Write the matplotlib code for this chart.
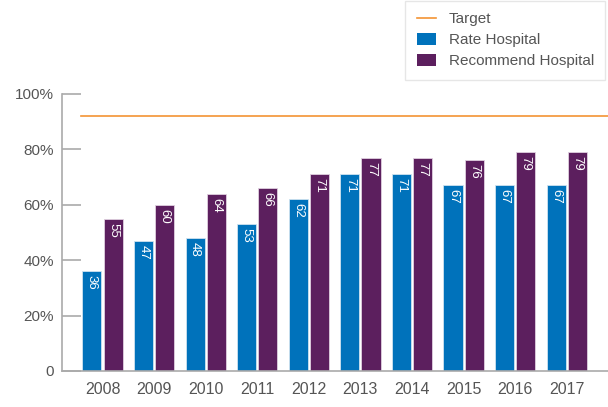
import matplotlib
matplotlib.use("Agg")
import matplotlib.pyplot as plt
import numpy as np
from matplotlib.lines import Line2D
from matplotlib.patches import Patch

years = ["2008", "2009", "2010", "2011", "2012", "2013", "2014", "2015", "2016", "2017"]
rate_hospital = [36, 47, 48, 53, 62, 71, 71, 67, 67, 67]
recommend_hospital = [55, 60, 64, 66, 71, 77, 77, 76, 79, 79]
target = 92

BLUE = "#0072bb"
PURPLE = "#5c1f5e"
ORANGE = "#f39433"
GREY = "#555555"

plt.rcParams['font.family'] = ['Liberation Sans', 'DejaVu Sans']

fig = plt.figure(figsize=(6.08, 4.07), dpi=100)
ax = fig.add_axes([0.102, 0.0885, 0.898, 0.681])

x = np.arange(len(years))
w = 0.37
off = 0.205
b1 = ax.bar(x - off, rate_hospital, w, color=BLUE, edgecolor="#cfe3f0", linewidth=0.6)
b2 = ax.bar(x + off, recommend_hospital, w, color=PURPLE, edgecolor="#e0d0e0", linewidth=0.6)

for xi, v in zip(x - off, rate_hospital):
    ax.text(xi, v - 1.5, str(v), rotation=-90, ha="center", va="top",
            color="white", fontsize=9.5)
for xi, v in zip(x + off, recommend_hospital):
    ax.text(xi, v - 1.5, str(v), rotation=-90, ha="center", va="top",
            color="white", fontsize=9.5)

ax.axhline(target, xmin=0.035, xmax=1.0, color=ORANGE, linewidth=1.2)

ax.set_xlim(-0.785, 9.8)
ax.set_ylim(0, 100)
ax.set_yticks([0, 20, 40, 60, 80, 100])
ax.set_yticklabels(["0", "20%", "40%", "60%", "80%", "100%"])
ax.set_xticks(x)
ax.set_xticklabels(years)

for s in ["top", "right"]:
    ax.spines[s].set_visible(False)
for s in ["left", "bottom"]:
    ax.spines[s].set_color("#aaaaaa")
    ax.spines[s].set_linewidth(1.2)
ax.tick_params(axis="y", direction="in", length=14, color="#aaaaaa", width=1.2,
               labelcolor=GREY, labelsize=11, pad=6)
ax.tick_params(axis="x", length=0, labelcolor=GREY, labelsize=11.5, pad=8)

handles = [Line2D([0], [0], color=ORANGE, lw=1.2),
           Patch(facecolor=BLUE),
           Patch(facecolor=PURPLE)]
leg = fig.legend(handles, ["Target", "Rate Hospital", "Recommend Hospital"],
                 loc="upper right", bbox_to_anchor=(0.997, 1.0), frameon=True,
                 fontsize=11, labelcolor=GREY, handlelength=1.3, handleheight=0.8,
                 handletextpad=0.8, borderpad=0.75, labelspacing=0.45, fancybox=False,
                 borderaxespad=0.05)
leg.get_frame().set_edgecolor("#e0e0e0")
leg.get_frame().set_facecolor("white")

fig.savefig("out.png", dpi=100)
